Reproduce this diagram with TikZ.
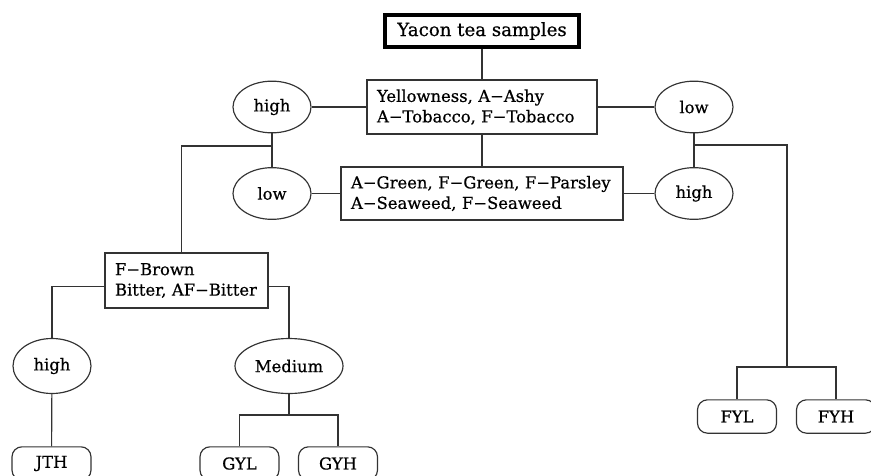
\documentclass[tikz,border=0pt]{standalone}
\usepackage{fontspec}
\setmainfont{DejaVu Serif}[RawFeature={embolden=0.6}]
\usetikzlibrary{shapes.geometric}

\begin{document}
\begin{tikzpicture}[x=0.03cm,y=-0.03cm,line width=1pt,draw=black!80,
  font=\fontsize{14}{17.5}\selectfont,
  oval/.style={draw,ellipse,minimum width=2.34cm,minimum height=1.55cm,inner sep=0pt},
  crit/.style={draw,align=left,inner xsep=0.3cm,inner ysep=0pt},
  leaf/.style={draw,rounded corners=0.3cm,minimum width=2.37cm,minimum height=1cm,inner sep=0pt}]
  \useasboundingbox (0,0) rectangle (871,475);
  \clip (0,0) rectangle (871,475);
  % titulo y primer criterio
  \node[draw=black,line width=2.6pt,minimum width=5.82cm,minimum height=0.96cm,inner sep=0pt,font=\fontsize{15.5}{18}\selectfont] (top) at (482,31) {Yacon tea samples};
  \node[crit,text width=6.3cm,minimum height=1.62cm] (c1) at (482,107) {\mbox{Yellowness, A−Ashy}\\\mbox{A−Tobacco, F−Tobacco}};
  \node[oval] (hiA) at (272,107) {high};
  \node[oval] (loB) at (694,107) {low};
  % segundo criterio
  \node[crit,text width=7.86cm,minimum height=1.59cm] (c2) at (482,193.5) {\mbox{A−Green, F−Green, F−Parsley}\\\mbox{A−Seaweed, F−Seaweed}};
  \node[oval] (loA) at (272,193.5) {low};
  \node[oval] (hiB) at (694,193.5) {high};
  \coordinate (jA) at (272,146);
  \coordinate (jB) at (694,145);
  \coordinate (jC) at (787,367);
  % tercer criterio
  \node[crit,text width=4.29cm,minimum height=1.65cm] (c3) at (186.5,280.5) {\mbox{F−Brown}\\\mbox{Bitter, AF−Bitter}};
  \node[oval,minimum height=1.65cm] (hiC) at (52,366) {high};
  \node[oval,minimum width=3.24cm,minimum height=1.65cm] (med) at (289,366) {Medium};
  \coordinate (jD) at (289,415);
  % muestras
  \node[leaf] (jth) at (51.5,463.5) {JTH};
  \node[leaf] (gyl) at (239.5,463.5) {GYL};
  \node[leaf] (gyh) at (338,463.5) {GYH};
  \node[leaf] (fyl) at (737,416.5) {FYL};
  \node[leaf] (fyh) at (836,416.5) {FYH};
  % conexiones
  \draw (top) -- (c1);
  \draw (c1) -- (hiA); \draw (c1) -- (loB); \draw (c1) -- (c2);
  \draw (c2) -- (loA); \draw (c2) -- (hiB);
  \draw (hiA) -- (loA); \draw (jA) -| ([xshift=-0.15cm]c3.north);
  \draw (loB) -- (hiB); \draw (jB) -| (jC);
  \draw (fyl) |- (jC) -| (fyh);
  \draw ([yshift=-0.17cm]c3.west) -| (hiC); \draw ([yshift=-0.17cm]c3.east) -| (med);
  \draw (hiC) -- (jth);
  \draw (med) -- (jD); \draw (gyl) |- (jD) -| (gyh);
\end{tikzpicture}
\end{document}
